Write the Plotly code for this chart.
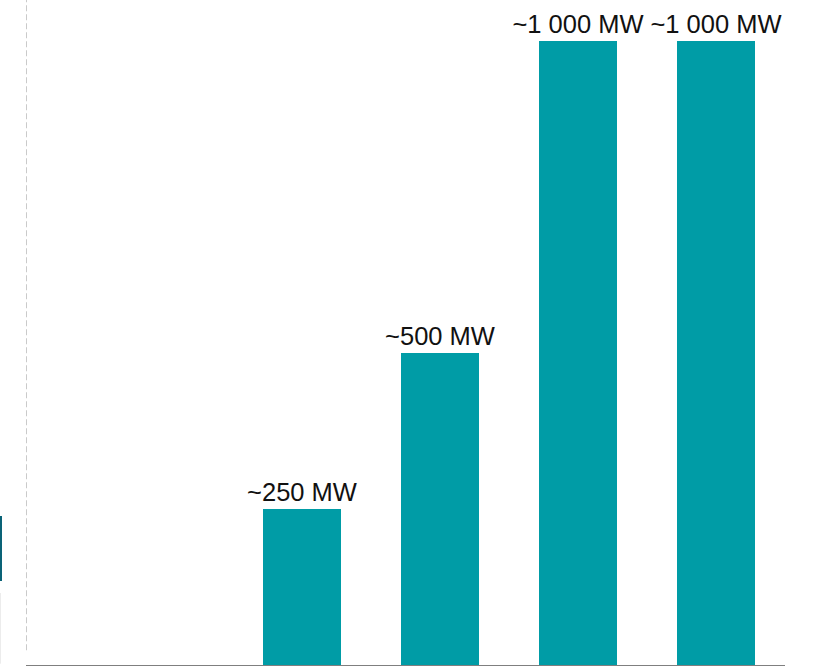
import plotly.graph_objects as go

# Installed capacity per phase (MW); the first two slots are empty
phases = ["P0", "P1", "P2", "P3", "P4", "P5"]
capacity_mw = [None, None, 250, 500, 1000, 1000]
labels = ["", "", "~250 MW", "~500 MW", "~1 000 MW", "~1 000 MW"]

BAR = "#009ca6"

fig = go.Figure()
fig.add_trace(go.Bar(
    x=phases,
    y=capacity_mw,
    marker=dict(color=BAR, line=dict(width=0)),
    width=0.56,
    text=labels,
    textposition="outside",
    constraintext="none",
    textfont=dict(family="Liberation Sans, Arial, sans-serif", size=25.5, color="#111111"),
    cliponaxis=False,
    hoverinfo="skip",
))

fig.update_layout(
    width=813, height=666,
    margin=dict(l=26, r=28, t=0, b=1),
    paper_bgcolor="white",
    plot_bgcolor="white",
    showlegend=False,
    bargap=0,
    uniformtext=dict(mode=False),
    xaxis=dict(
        type="category",
        categoryorder="array",
        categoryarray=phases,
        range=[0, 5.5],
        showticklabels=False,
        showgrid=False,
        zeroline=False,
        ticks="",
        showline=True,
        linecolor="#7f7f7f",
        linewidth=2,
    ),
    yaxis=dict(
        range=[0, 1066],
        visible=False,
        showgrid=False,
        zeroline=False,
    ),
    shapes=[
        # dashed separator on the left edge of the plot
        dict(type="line", xref="x", yref="paper", x0=0, x1=0, y0=0.022, y1=1,
             line=dict(color="#bdbdbd", width=1.6, dash="6px,3px")),
        # cropped marker fragments at the far left
        dict(type="rect", xref="paper", yref="paper",
             x0=-26 / 759, x1=-24 / 759, y0=(665 - 581) / 665, y1=(665 - 516) / 665,
             fillcolor="#0a6377", line=dict(width=0)),
        dict(type="line", xref="paper", yref="paper",
             x0=-25.5 / 759, x1=-25.5 / 759, y0=0.002, y1=(665 - 593) / 665,
             line=dict(color="#ececec", width=1)),
    ],
)

fig.write_html("out.html")
